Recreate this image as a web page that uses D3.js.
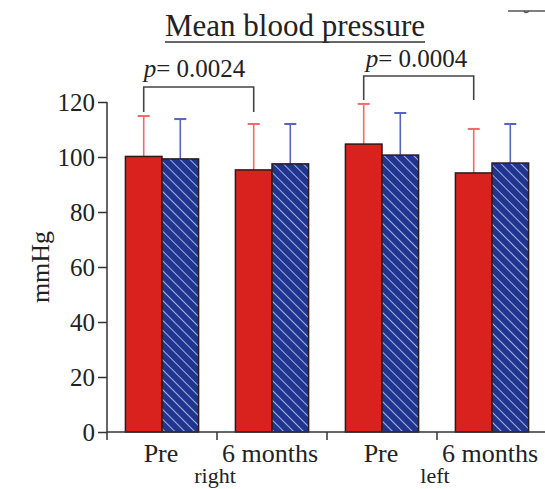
<!DOCTYPE html>
<html>
<head>
<meta charset="utf-8">
<script src="https://cdn.jsdelivr.net/npm/d3@7"></script>
<style>
  body { margin: 0; background: #fff; }
  text { font-family: "Liberation Serif", "DejaVu Serif", serif; fill: #222; }
</style>
</head>
<body>
<script>
(function(){
   var width = 545;
   var height = 489;

   // data
   var categories = ["Pre right", "6 months right", "Pre left", "6 months left"];
   var tickLabels = ["Pre", "6 months", "Pre", "6 months"];
   var series = ["a", "b"];
   var redMeans = [100.2, 95.3, 104.7, 94.2];
   var redUpper = [114.9, 112.0, 119.3, 110.2];
   var blueMeans = [99.3, 97.5, 100.7, 97.8];
   var blueUpper = [113.8, 112.0, 116.0, 112.0];
   var yTicks = [0, 20, 40, 60, 80, 100, 120];
   var sideLabels = ["right", "left"];
   var pValues = ["0.0024", "0.0004"];

   var svg = d3.select("body").append("svg")
       .attr("width", width)
       .attr("height", height);

   var defs = svg.append("defs");
   var pat = defs.append("pattern")
       .attr("id", "hatch")
       .attr("patternUnits", "userSpaceOnUse")
       .attr("width", 7).attr("height", 7)
       .attr("patternTransform", "rotate(-45)");
   pat.append("rect").attr("width", 7).attr("height", 7).attr("fill", "#1f3590");
   pat.append("line")
       .attr("x1", 0).attr("y1", 0).attr("x2", 0).attr("y2", 7)
       .attr("stroke", "#c8d0f0").attr("stroke-width", 1.6);

   var xScale = d3.scaleBand()
       .domain(categories)
       .range([107, 547])
       .paddingInner(0.335)
       .paddingOuter(0.1675);
   var xSub = d3.scaleBand()
       .domain(series)
       .range([0, xScale.bandwidth()]);
   var yScale = d3.scaleLinear()
       .domain([0, 120])
       .range([432, 102]);

   // y axis
   var yAxis = svg.append("g")
       .attr("transform", "translate(107,0)")
       .call(d3.axisLeft(yScale).tickValues(yTicks).tickSize(9).tickPadding(3));
   yAxis.selectAll("path, line").attr("stroke", "#333").attr("stroke-width", 1.5);
   yAxis.select(".domain").attr("d", "M0," + yScale(120) + "V" + yScale(0));
   yAxis.selectAll("text").attr("font-size", 25).style("font-family", "Liberation Serif, serif").attr("fill", "#222");

   svg.append("text")
       .attr("transform", "translate(49," + yScale(60) + ") rotate(-90)")
       .attr("text-anchor", "middle")
       .attr("font-size", 26)
       .text("mmHg");

   // bars
   var rows = categories.map(function(c, i){
       return [
         {cat: c, s: "a", v: redMeans[i], e: redUpper[i]},
         {cat: c, s: "b", v: blueMeans[i], e: blueUpper[i]}
       ];
   });
   var flat = d3.merge(rows);

   // error bars (upper only)
   var err = svg.append("g");
   flat.forEach(function(d){
       var cx = xScale(d.cat) + xSub(d.s) + xSub.bandwidth() / 2;
       var col = d.s === "a" ? "#f26a6a" : "#5566bb";
       err.append("line")
           .attr("x1", cx).attr("x2", cx)
           .attr("y1", yScale(d.v)).attr("y2", yScale(d.e))
           .attr("stroke", col).attr("stroke-width", 1.6);
       err.append("line")
           .attr("x1", cx - 6).attr("x2", cx + 6)
           .attr("y1", yScale(d.e)).attr("y2", yScale(d.e))
           .attr("stroke", col).attr("stroke-width", 2);
   });

   svg.append("g").selectAll("rect")
       .data(flat)
       .enter().append("rect")
       .attr("x", function(d){ return xScale(d.cat) + xSub(d.s); })
       .attr("y", function(d){ return yScale(d.v); })
       .attr("width", xSub.bandwidth())
       .attr("height", function(d){ return yScale(0) - yScale(d.v); })
       .attr("fill", function(d){ return d.s === "a" ? "#d9221d" : "url(#hatch)"; })
       .attr("stroke", "#2a1a1a")
       .attr("stroke-width", 1.5);

   // x axis
   var step = xScale.step();
   var xAxis = svg.append("g")
       .attr("transform", "translate(0,432)");
   xAxis.append("line")
       .attr("x1", 107).attr("x2", 547)
       .attr("stroke", "#333").attr("stroke-width", 1.5);
   [0, 1, 2, 3].forEach(function(i){
       var tx = 107 + i * step;
       xAxis.append("line")
           .attr("x1", tx).attr("x2", tx).attr("y1", 0).attr("y2", 8)
           .attr("stroke", "#333").attr("stroke-width", 1.5);
   });
   categories.forEach(function(c, i){
       xAxis.append("text")
           .attr("x", xScale(c) + xScale.bandwidth() / 2 + (i % 2 ? -2 : -1))
           .attr("y", 30)
           .attr("text-anchor", "middle")
           .attr("font-size", 26)
           .text(tickLabels[i]);
   });
   sideLabels.forEach(function(s, i){
       xAxis.append("text")
           .attr("x", 107 + (1 + 2 * i) * step - 2)
           .attr("y", 51)
           .attr("text-anchor", "middle")
           .attr("font-size", 22)
           .text(s);
   });

   // brackets with p values
   var brackets = [
     {a: 0, b: 1, top: 87, legA: 112, legB: 112, ty: 77},
     {a: 2, b: 3, top: 76, legA: 100, legB: 100, ty: 67}
   ];
   brackets.forEach(function(br, i){
       var xa = xScale(categories[br.a]) + xSub("a") + xSub.bandwidth() / 2;
       var xb = xScale(categories[br.b]) + xSub("a") + xSub.bandwidth() / 2;
       svg.append("path")
           .attr("d", "M" + xa + "," + br.legA + "V" + br.top + "H" + xb + "V" + br.legB)
           .attr("fill", "none")
           .attr("stroke", "#444")
           .attr("stroke-width", 1.6);
       var t = svg.append("text")
           .attr("x", xa + (i === 0 ? 0 : 2))
           .attr("y", br.ty)
           .attr("font-size", 25);
       t.append("tspan").attr("font-style", "italic").text("p");
       t.append("tspan").text("= " + pValues[i]);
   });

   // title
   var title = svg.append("text")
       .attr("x", 295)
       .attr("y", 36)
       .attr("text-anchor", "middle")
       .attr("font-size", 31)
       .text("Mean blood pressure");
   var bb = title.node().getBBox();
   svg.append("line")
       .attr("x1", bb.x).attr("x2", bb.x + bb.width)
       .attr("y1", 42).attr("y2", 42)
       .attr("stroke", "#333").attr("stroke-width", 1.5);

   // stray mark at top right
   svg.append("line")
       .attr("x1", 508).attr("x2", 545).attr("y1", 11).attr("y2", 11)
       .attr("stroke", "#555").attr("stroke-width", 1.5);
   svg.append("path")
       .attr("d", "M524,11 q2,3 5,0")
       .attr("fill", "none").attr("stroke", "#555").attr("stroke-width", 1.5);
})();
</script>
</body>
</html>
